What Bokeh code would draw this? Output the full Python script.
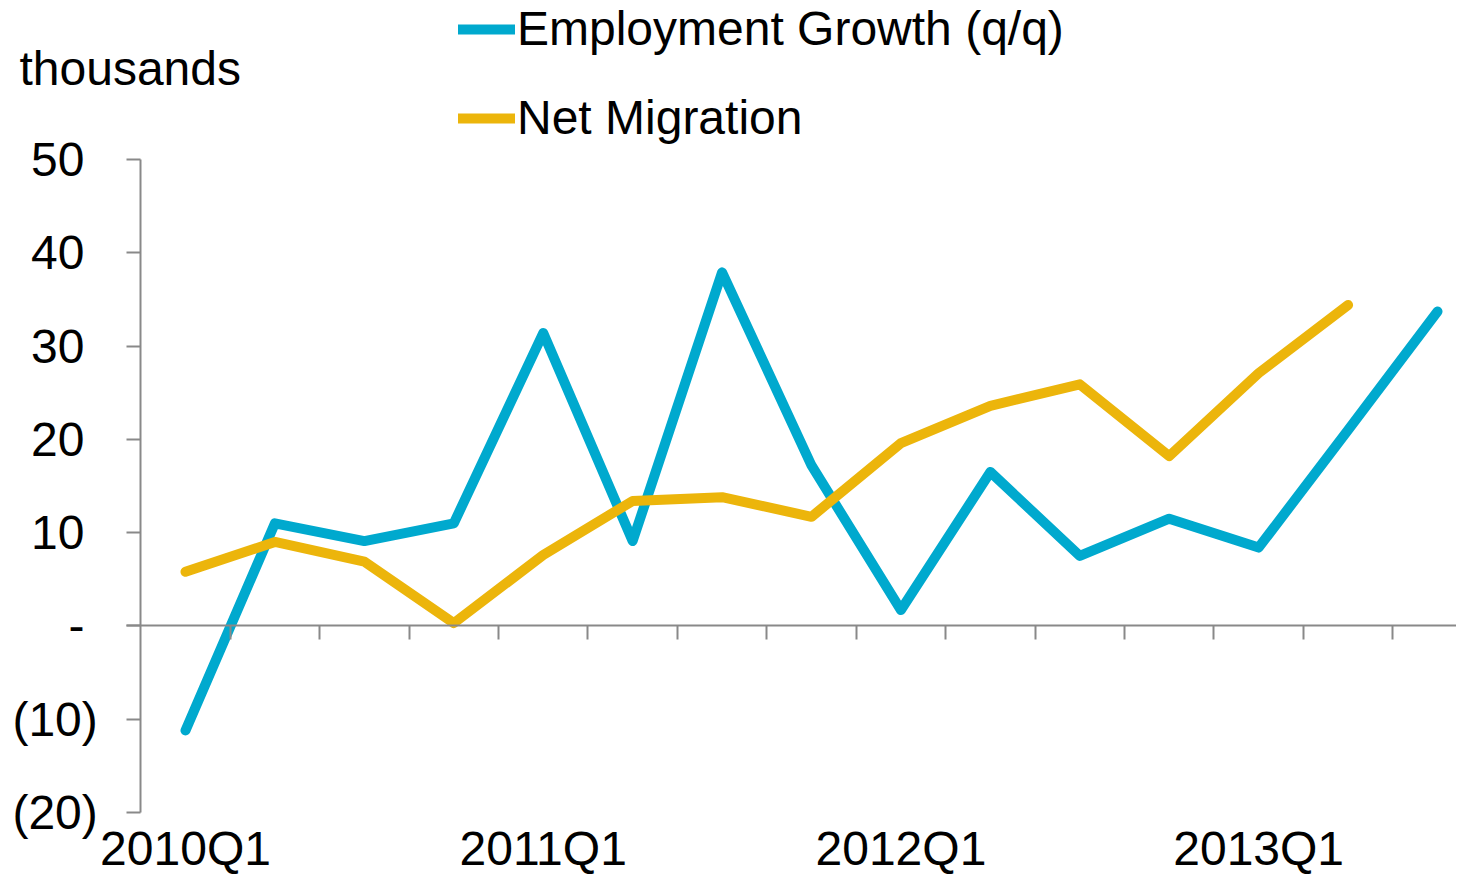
from bokeh.plotting import figure
from bokeh.models import (LinearAxis, FixedTicker, Range1d, Legend, LegendItem,
                          Label, CustomJSTickFormatter, Grid)
from bokeh.embed import file_html
from bokeh.resources import INLINE

# ---- data ----
quarters = ["2010Q1", "2010Q2", "2010Q3", "2010Q4",
            "2011Q1", "2011Q2", "2011Q3", "2011Q4",
            "2012Q1", "2012Q2", "2012Q3", "2012Q4",
            "2013Q1", "2013Q2", "2013Q3"]
employment_growth = [-11.2, 11.0, 9.1, 11.0, 31.4, 9.1, 37.9, 17.2,
                     1.7, 16.5, 7.5, 11.5, 8.4, 21.0, 33.7]
net_migration = [5.8, 9.0, 6.9, 0.3, 7.6, 13.4, 13.8, 11.7,
                 19.6, 23.6, 25.9, 18.2, 27.1, 34.4]
y_ticks = [-20, -10, 0, 10, 20, 30, 40, 50]
y_tick_labels = ["(20)", "(10)", "-", "10", "20", "30", "40", "50"]
series_names = ["Employment Growth (q/q)", "Net Migration"]
unit_label = "thousands"

# ---- style / layout ----
FONT = "Liberation Sans"
FS = "48px"
GRAY = "#898989"
BLUE = "#00A9CE"
GOLD = "#ECB50B"
LW = 10
W, H = 1456, 877
# pixel anchors of the plotting area (canvas coordinates)
X0_PX, DX_PX = 185.0, 89.43          # first category centre, category pitch
YTOP_PX, YBOT_PX = 159.0, 812.0      # pixel rows of y_ticks[-1] and y_ticks[0]
TICK = 14

ymin, ymax = y_ticks[0], y_ticks[-1]
py = (YBOT_PX - YTOP_PX) / (ymax - ymin)
x_start = -X0_PX / DX_PX
x_end = (W - X0_PX) / DX_PX
y_end = ymax + YTOP_PX / py
y_start = ymin - (H - YBOT_PX) / py

x_emp = list(range(len(employment_growth)))
x_mig = list(range(len(net_migration)))

p = figure(width=W, height=H,
           x_range=Range1d(x_start, x_end), y_range=Range1d(y_start, y_end),
           output_backend="svg", toolbar_location=None,
           x_axis_location=None, y_axis_location=None,
           min_border=0, min_border_left=0, min_border_right=0,
           min_border_top=0, min_border_bottom=0)
p.outline_line_color = None
p.background_fill_color = "white"
p.border_fill_color = "white"
for g in p.select(type=Grid):
    g.visible = False

# y axis (inside the full-canvas frame, at the left edge of the categories)
ya = LinearAxis(fixed_location=-0.5, bounds=(ymin, ymax),
                ticker=FixedTicker(ticks=y_ticks),
                major_label_overrides={t: (lab if lab.startswith("(") else lab + "\u00a0")
                                       for t, lab in zip(y_ticks, y_tick_labels)},
                axis_line_color=GRAY, axis_line_width=2,
                major_tick_line_color=GRAY, major_tick_line_width=2,
                major_tick_out=TICK, major_tick_in=0,
                minor_tick_line_color=None,
                major_label_standoff=29,
                major_label_text_font=FONT, major_label_text_font_size=FS,
                major_label_text_color="black")
p.add_layout(ya, "left")

# zero axis with category-boundary ticks
zero_axis = LinearAxis(fixed_location=0,
                       bounds=(-0.5 - TICK / DX_PX, x_end),
                       ticker=FixedTicker(ticks=[i + 0.5 for i in range(len(quarters))]),
                       formatter=CustomJSTickFormatter(code="return ''"),
                       axis_line_color=GRAY, axis_line_width=2,
                       major_tick_line_color=GRAY, major_tick_line_width=2,
                       major_tick_out=TICK, major_tick_in=0,
                       minor_tick_line_color=None)
p.add_layout(zero_axis, "below")

# category labels under the plot
q1_ticks = [i for i, q in enumerate(quarters) if q.endswith("Q1")]
label_axis = LinearAxis(fixed_location=ymin,
                        ticker=FixedTicker(ticks=q1_ticks),
                        major_label_overrides={i: quarters[i] for i in q1_ticks},
                        axis_line_color=None, major_tick_line_color=None,
                        minor_tick_line_color=None,
                        major_tick_out=0, major_tick_in=0,
                        major_label_standoff=9,
                        major_label_text_font=FONT,
                        major_label_text_font_size=FS,
                        major_label_text_color="black")
p.add_layout(label_axis, "below")

r1 = p.line(x_emp, employment_growth, line_color=BLUE, line_width=LW,
            line_cap="round", line_join="round")
r2 = p.line(x_mig, net_migration, line_color=GOLD, line_width=LW,
            line_cap="round", line_join="round")

legend = Legend(items=[LegendItem(label=series_names[0], renderers=[r1]),
                       LegendItem(label=series_names[1], renderers=[r2])],
                location=(458, H - 145), orientation="vertical",
                label_text_font=FONT, label_text_font_size=FS,
                label_text_color="black",
                glyph_width=57, glyph_height=54, label_height=54,
                spacing=34, padding=0, margin=0, label_standoff=2,
                border_line_color=None, background_fill_alpha=0)
p.add_layout(legend, "center")

p.add_layout(Label(x=19, y=H - 68, x_units="screen", y_units="screen",
                   text=unit_label, text_font=FONT, text_font_size=FS,
                   text_color="black", text_baseline="alphabetic"))

open("out.html", "w").write(file_html(p, INLINE))
